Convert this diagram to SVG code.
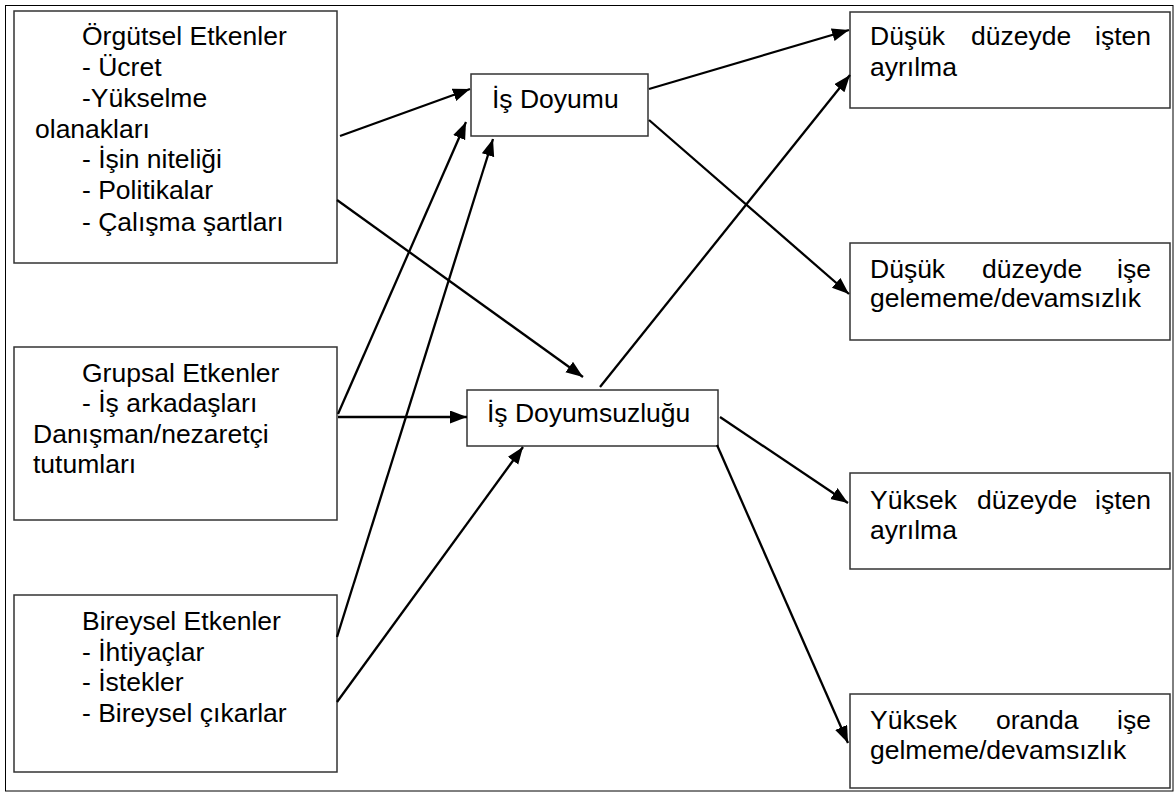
<svg xmlns="http://www.w3.org/2000/svg" width="1174" height="796" viewBox="0 0 1174 796">
<style>
.box{fill:#fff;stroke:#333;stroke-width:1.5}
.t{font-family:"Liberation Sans",Arial,sans-serif;font-size:26.5px;fill:#000}
.c{stroke:#000;stroke-width:2.3;fill:none;marker-end:url(#ah)}
</style>
<defs>
<marker id="ah" markerUnits="userSpaceOnUse" markerWidth="18" markerHeight="14" refX="17" refY="6.5" orient="auto">
<path d="M0,0 L17,6.5 L0,13 z" fill="#000"/>
</marker>
</defs>
<rect x="0" y="0" width="1174" height="796" fill="#fff"/>
<rect x="5.5" y="5.5" width="1167.5" height="785.5" fill="none" stroke="#000" stroke-width="1"/>

<g id="orgutsel">
<rect class="box" x="14" y="11" width="323" height="252"/>
<text class="t"><tspan x="82" y="45">Örgütsel Etkenler</tspan><tspan x="82" y="76">- Ücret</tspan><tspan x="82" y="107">-Yükselme</tspan><tspan x="35" y="138">olanakları</tspan><tspan x="82" y="168">- İşin niteliği</tspan><tspan x="82" y="199">- Politikalar</tspan><tspan x="82" y="231">- Çalışma şartları</tspan></text>
</g>
<g id="grupsal">
<rect class="box" x="14" y="347" width="323" height="173"/>
<text class="t"><tspan x="82" y="382">Grupsal Etkenler</tspan><tspan x="82" y="412">- İş arkadaşları</tspan><tspan x="33" y="443">Danışman/nezaretçi</tspan><tspan x="33" y="473">tutumları</tspan></text>
</g>
<g id="bireysel">
<rect class="box" x="14" y="595" width="323" height="177"/>
<text class="t"><tspan x="82" y="630">Bireysel Etkenler</tspan><tspan x="82" y="661">- İhtiyaçlar</tspan><tspan x="82" y="691">- İstekler</tspan><tspan x="82" y="722">- Bireysel çıkarlar</tspan></text>
</g>
<g id="isdoyumu">
<rect class="box" x="471" y="74" width="177" height="62"/>
<text class="t" x="492" y="108">İş Doyumu</text>
</g>
<g id="isdoyumsuzlugu">
<rect class="box" x="467" y="390" width="251" height="56"/>
<text class="t" x="487" y="422">İş Doyumsuzluğu</text>
</g>
<g id="r1">
<rect class="box" x="850" y="12" width="320" height="96"/>
<text class="t"><tspan x="870" y="45">Düşük</tspan><tspan x="971" y="45">düzeyde</tspan><tspan x="1151" y="45" text-anchor="end">işten</tspan><tspan x="870" y="76">ayrılma</tspan></text>
</g>
<g id="r2">
<rect class="box" x="850" y="243" width="320" height="97"/>
<text class="t"><tspan x="870" y="278">Düşük</tspan><tspan x="982" y="278">düzeyde</tspan><tspan x="1151" y="278" text-anchor="end">işe</tspan><tspan x="870" y="307">gelememe/devamsızlık</tspan></text>
</g>
<g id="r3">
<rect class="box" x="850" y="473" width="320" height="96"/>
<text class="t"><tspan x="870" y="509">Yüksek</tspan><tspan x="977" y="509">düzeyde</tspan><tspan x="1151" y="509" text-anchor="end">işten</tspan><tspan x="870" y="539">ayrılma</tspan></text>
</g>
<g id="r4">
<rect class="box" x="850" y="694" width="320" height="94"/>
<text class="t"><tspan x="870" y="729">Yüksek</tspan><tspan x="996" y="729">oranda</tspan><tspan x="1151" y="729" text-anchor="end">işe</tspan><tspan x="870" y="759">gelmeme/devamsızlık</tspan></text>
</g>

<g id="connectors">
<line class="c" x1="340" y1="136" x2="470" y2="89"/>
<line class="c" x1="337" y1="200" x2="583" y2="377"/>
<line class="c" x1="338" y1="414" x2="466" y2="122"/>
<line class="c" x1="338" y1="417" x2="467" y2="417"/>
<line class="c" x1="337" y1="637" x2="493" y2="139"/>
<line class="c" x1="337" y1="702" x2="523" y2="447"/>
<line class="c" x1="649" y1="89" x2="849" y2="30"/>
<line class="c" x1="649" y1="120" x2="849" y2="294"/>
<line class="c" x1="600" y1="387" x2="850" y2="75"/>
<line class="c" x1="720" y1="417" x2="848" y2="503"/>
<line class="c" x1="717" y1="445" x2="848" y2="743"/>
</g>
</svg>
